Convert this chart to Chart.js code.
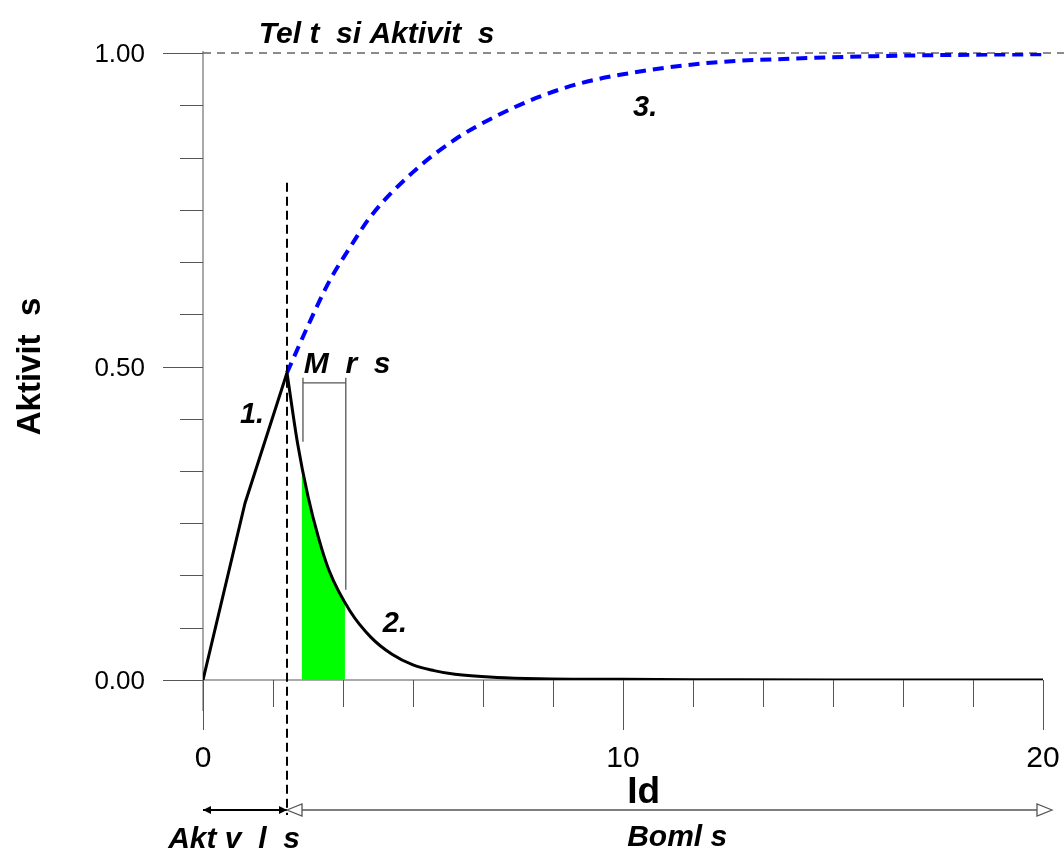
<!DOCTYPE html>
<html>
<head>
<meta charset="utf-8">
<script src="https://cdn.jsdelivr.net/npm/chart.js@4.4.1/dist/chart.umd.min.js"></script>
<style>
  html, body { margin: 0; padding: 0; background: #fff; }
  #wrap { width: 1064px; height: 851px; position: relative; }
</style>
</head>
<body>
<div id="wrap"><canvas id="activityChart"></canvas></div>
<script>
// 1. activation, 2. decay, 3. saturation curve, green = measurement window
const tAct = [0, 1, 2];
const actValues = [0, 0.282, 0.49];

const tDecay = [2, 2.25, 2.5, 2.75, 3, 3.5, 4, 4.5, 5, 5.5, 6, 7, 8, 10, 12, 15, 20];
const decayValues = [0.49, 0.378, 0.293, 0.227, 0.175, 0.11, 0.068, 0.041, 0.024, 0.015, 0.009, 0.004, 0.002, 0.001, 0.0005, 0, 0];

const tSat = [2, 2.5, 3, 3.5, 4, 5, 6, 7, 8, 9, 10, 12, 14, 16, 18, 20];
const satValues = [0.49, 0.565, 0.635, 0.69, 0.74, 0.81, 0.862, 0.9, 0.93, 0.952, 0.966, 0.984, 0.991, 0.995, 0.997, 0.998];

const tMeasure = [2.35, 2.5, 2.75, 3, 3.38];
const measureValues = [0.34, 0.293, 0.227, 0.175, 0.128];

const xTicks = [0, 1.667, 3.333, 5, 6.667, 8.333, 10, 11.667, 13.333, 15, 16.667, 18.333, 20];
const yTicks = [0, 0.0833, 0.1667, 0.25, 0.3333, 0.4167, 0.5, 0.5833, 0.6667, 0.75, 0.8333, 0.9167, 1];
const xLabelValues = [0, 10, 20];
const xLabels = ["0", "10", "20"];
const yLabelValues = [0, 0.5, 1];
const yLabels = ["0.00", "0.50", "1.00"];

const FONT = "'Liberation Sans', Arial, sans-serif";

const toPoints = (xs, ys) => xs.map((v, i) => ({ x: v, y: ys[i] }));

function seg(ctx, x1, y1, x2, y2) {
  ctx.beginPath();
  ctx.moveTo(x1, y1);
  ctx.lineTo(x2, y2);
  ctx.stroke();
}

function text(ctx, str, x, y, font, align) {
  ctx.font = font;
  ctx.textAlign = align || "left";
  ctx.fillText(str, x, y);
}

const axesPlugin = {
  id: "axesPlugin",
  beforeDatasetsDraw(chart) {
    const { ctx, scales: { x, y } } = chart;
    const x0 = x.getPixelForValue(0), x20 = x.getPixelForValue(20);
    const y0 = y.getPixelForValue(0), y1 = y.getPixelForValue(1);
    ctx.save();
    ctx.strokeStyle = "#555";
    ctx.lineWidth = 1;
    seg(ctx, x0, y1 - 2, x0, y0 + 31);
    yTicks.forEach((v, i) => {
      const py = Math.round(y.getPixelForValue(v)) + 0.5;
      seg(ctx, x0 - (i % 6 === 0 ? 40 : 23), py, x0, py);
    });
    seg(ctx, x0, y0, x20, y0);
    xTicks.forEach((v, i) => {
      const px = Math.round(x.getPixelForValue(v)) + 0.5;
      seg(ctx, px, y0, px, y0 + (i % 6 === 0 ? 50 : 27));
    });
    // full activity level
    ctx.strokeStyle = "#666";
    ctx.lineWidth = 1.5;
    ctx.setLineDash([8, 6]);
    seg(ctx, x0, y1, chart.width, y1);
    ctx.restore();
  },
  afterDatasetsDraw(chart) {
    const { ctx, scales: { x, y } } = chart;
    const X = v => x.getPixelForValue(v), Y = v => y.getPixelForValue(v);
    const y0 = Y(0);
    ctx.save();

    // end of activation
    ctx.strokeStyle = "#000";
    ctx.lineWidth = 2;
    ctx.setLineDash([9, 5]);
    seg(ctx, X(2), Y(0.793), X(2), y0 + 135);
    ctx.setLineDash([]);

    // measurement bracket
    ctx.strokeStyle = "#555";
    ctx.lineWidth = 1.3;
    const mL = X(2.38), mR = X(3.4), mTop = Y(0.474);
    seg(ctx, mL, mTop, mR, mTop);
    seg(ctx, mL, mTop - 5, mL, Y(0.38));
    seg(ctx, mR, mTop - 5, mR, Y(0.144));

    // arrows under the axis
    const ay = y0 + 130;
    ctx.strokeStyle = "#000";
    ctx.fillStyle = "#000";
    ctx.lineWidth = 2;
    seg(ctx, X(0), ay, X(2), ay);
    ctx.beginPath();
    ctx.moveTo(X(0), ay); ctx.lineTo(X(0) + 8, ay - 4); ctx.lineTo(X(0) + 8, ay + 4); ctx.closePath(); ctx.fill();
    ctx.beginPath();
    ctx.moveTo(X(2), ay); ctx.lineTo(X(2) - 8, ay - 4); ctx.lineTo(X(2) - 8, ay + 4); ctx.closePath(); ctx.fill();

    ctx.strokeStyle = "#555";
    ctx.lineWidth = 1.3;
    const bL = X(2), bR = X(20) + 9;
    seg(ctx, bL + 15, ay, bR - 15, ay);
    ctx.fillStyle = "#fff";
    ctx.beginPath();
    ctx.moveTo(bL, ay); ctx.lineTo(bL + 15, ay - 6); ctx.lineTo(bL + 15, ay + 6); ctx.closePath(); ctx.fill(); ctx.stroke();
    ctx.beginPath();
    ctx.moveTo(bR, ay); ctx.lineTo(bR - 15, ay - 6); ctx.lineTo(bR - 15, ay + 6); ctx.closePath(); ctx.fill(); ctx.stroke();

    // tick labels
    ctx.fillStyle = "#000";
    ctx.textBaseline = "alphabetic";
    yLabelValues.forEach((v, i) => text(ctx, yLabels[i], X(0) - 58, Y(v) + 9, "26px " + FONT, "right"));
    xLabelValues.forEach((v, i) => text(ctx, xLabels[i], X(v), y0 + 87, "30px " + FONT, "center"));

    // titles and annotations
    const bi = "italic bold 30px " + FONT;
    text(ctx, "Tel t  si Aktivit  s", X(1.33), Y(1.016), bi);
    text(ctx, "M  r  s", X(2.4), Y(0.49), bi);
    text(ctx, "1.", X(0.88), Y(0.41), "italic bold 29px " + FONT);
    text(ctx, "2.", X(4.28), Y(0.077), "italic bold 29px " + FONT);
    text(ctx, "3.", X(10.24), Y(0.9), "italic bold 29px " + FONT);
    text(ctx, "Id", X(10.1), y0 + 123, "bold 37px " + FONT);
    text(ctx, "Akt v  l  s", X(-0.83), y0 + 168, bi);
    text(ctx, "Boml s", X(10.1), y0 + 166, bi);

    ctx.translate(40, Y(0.5));
    ctx.rotate(-Math.PI / 2);
    text(ctx, "Aktivit  s", 0, 0, "bold 33px " + FONT, "center");
    ctx.restore();
  }
};

new Chart(document.getElementById("activityChart"), {
  type: "line",
  data: {
    datasets: [
      {
        data: toPoints(tAct, actValues),
        borderColor: "#000", borderWidth: 3, tension: 0, order: 1
      },
      {
        data: toPoints(tDecay, decayValues),
        borderColor: "#000", borderWidth: 3, cubicInterpolationMode: "monotone", order: 1
      },
      {
        data: toPoints(tSat, satValues),
        borderColor: "#0000ff", borderWidth: 4, borderDash: [11, 7],
        cubicInterpolationMode: "monotone", order: 2
      },
      {
        data: toPoints(tMeasure, measureValues),
        borderColor: "rgba(0,0,0,0)", borderWidth: 1, backgroundColor: "#00ff00",
        fill: "origin", cubicInterpolationMode: "monotone", order: 3
      }
    ]
  },
  options: {
    responsive: true,
    maintainAspectRatio: false,
    animation: false,
    layout: { padding: { left: 203, right: 21, top: 53, bottom: 171 } },
    elements: { point: { radius: 0 } },
    scales: {
      x: { type: "linear", min: 0, max: 20, display: false },
      y: { min: 0, max: 1, display: false }
    },
    plugins: { legend: { display: false }, tooltip: { enabled: false } }
  },
  plugins: [axesPlugin]
});
</script>
</body>
</html>
